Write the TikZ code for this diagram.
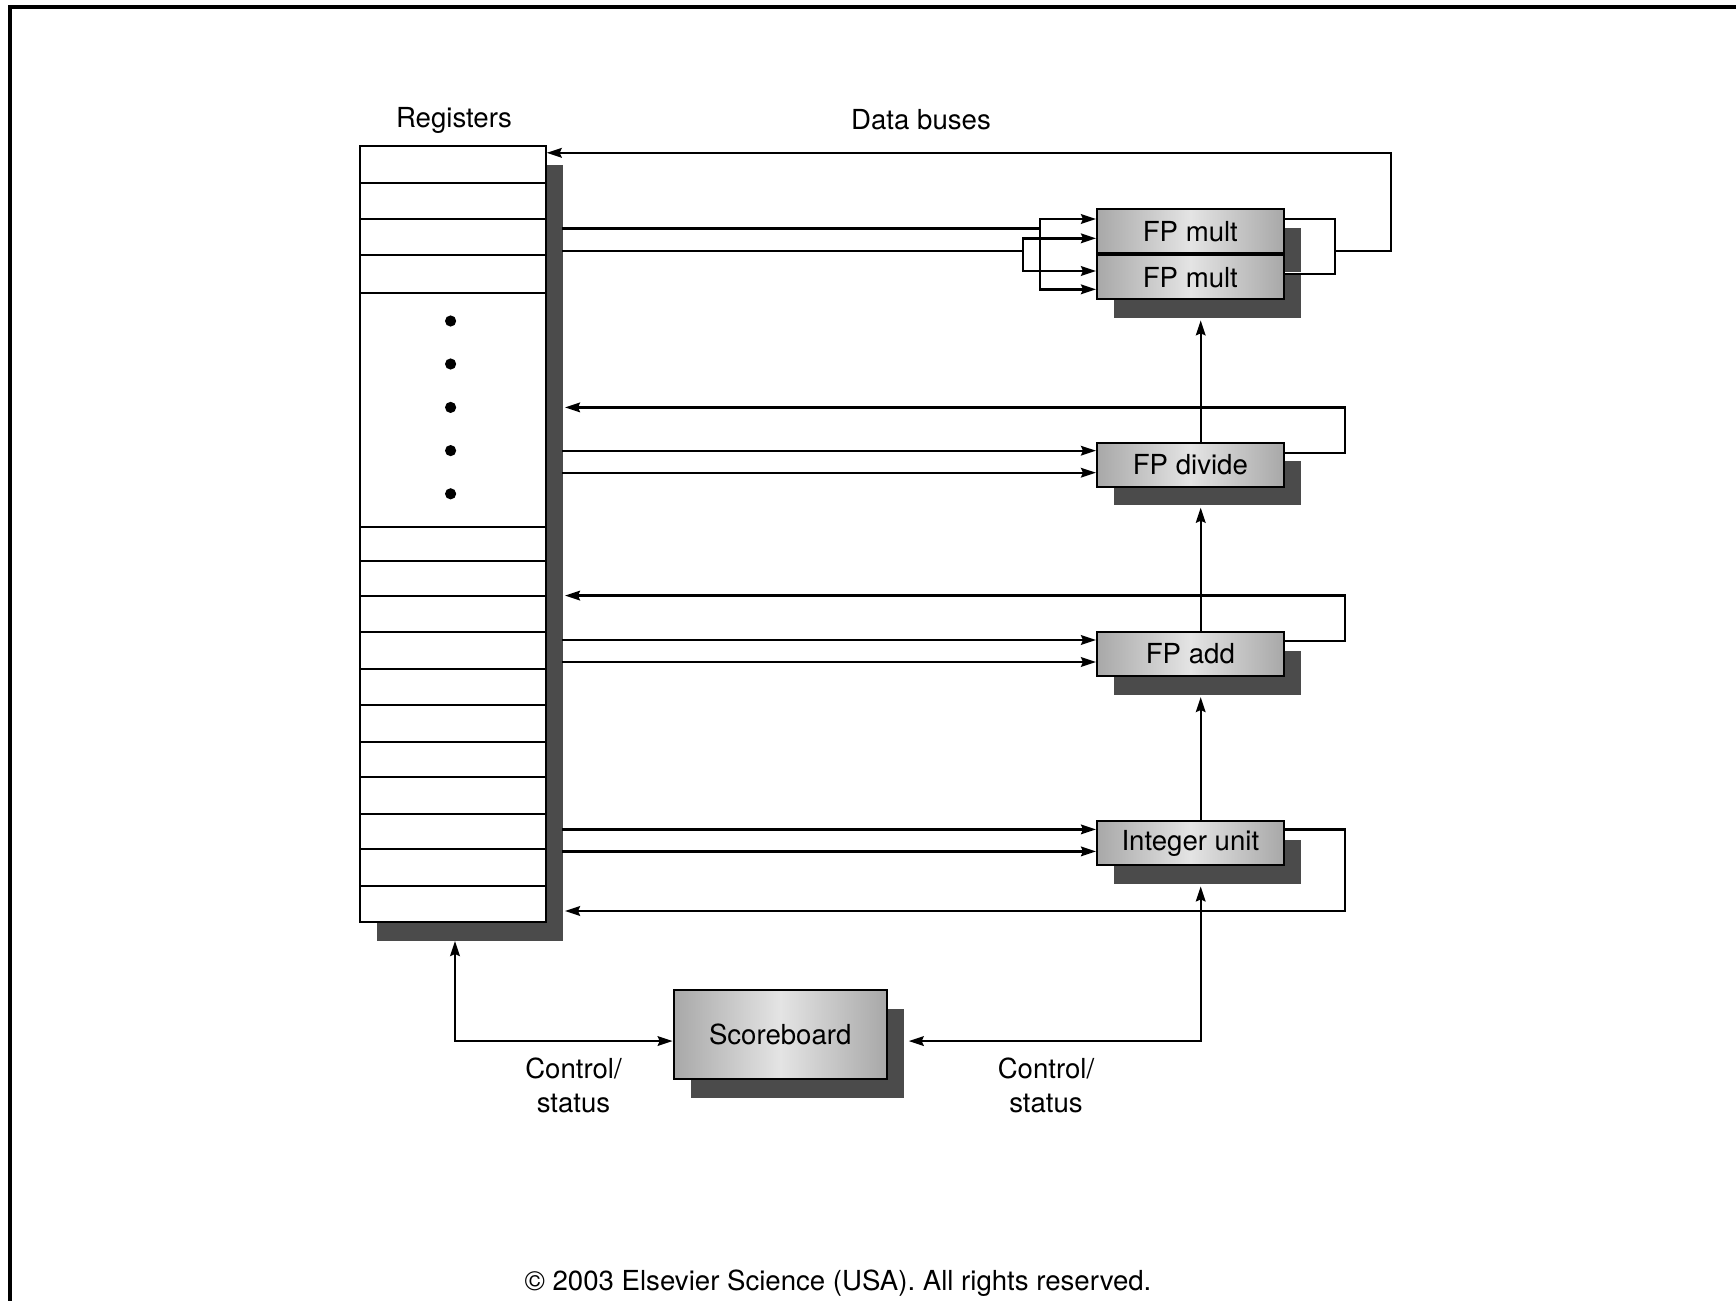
\documentclass[tikz,border=0pt]{standalone}
\usepackage{fontspec}
\setmainfont{TeX Gyre Heros}
\usepackage{tikz}
\usetikzlibrary{positioning,arrows.meta,calc,shadows}
\definecolor{colShadow}{HTML}{4B4B4B}
\definecolor{colBoxDark}{HTML}{A8A8A8}
\definecolor{colBoxLight}{HTML}{E4E4E4}

\begin{document}
\begin{tikzpicture}[x=0.5pt, y=-0.5pt, >={Stealth[length=7.5pt,width=4.8pt,inset=1pt]},
    font=\fontsize{13.8}{17.2}\selectfont,
    wire/.style={line width=1.2pt},
    unit/.style={draw, line width=1pt, minimum width=93.35pt, minimum height=22pt, inner sep=0pt,
      general shadow={fill=colShadow, shadow xshift=8.5pt, shadow yshift=-9.25pt},
      shade, shading=axis, left color=colBoxDark, right color=colBoxDark, middle color=colBoxLight},
    regbox/.style={draw, fill=white, line width=1pt, minimum width=92.85pt, minimum height=388pt, inner sep=0pt,
      general shadow={fill=colShadow, shadow xshift=8.5pt, shadow yshift=-9.5pt}}]
    \useasboundingbox (0,0) rectangle (1736,1301);

    % Marco
    \draw[line width=2pt] (10,1320) -- (10,7) -- (1750,7);

    % Registros
    \node[regbox, anchor=north west] (regs) at (359,145) {};
    \foreach \y in {182.7,219,255.3,292.7,527,561,595.6,632,668.7,705,741.8,777,813.7,849,885.7}
      \draw[line width=1pt] (regs.west |- 0,\y) -- (regs.east |- 0,\y);
    \foreach \y in {321,364,407.4,450.6,493.8}
      \fill (450.6,\y) circle (2.8pt);
    \node (lblRegs) at (454,120) {Registers};
    \node (lblBuses) at (921,120) {Data buses};

    % Unidades funcionales
    \node[unit, anchor=north west] (fpmultA) at (1096,208.3) {FP mult};
    \node[unit, below=0pt of fpmultA] (fpmultB) {FP mult};
    \node[unit, anchor=north west] (fpdiv) at (1096,441.7) {FP divide};
    \node[unit, anchor=north west] (fpadd) at (1096,631) {FP add};
    \node[unit, anchor=north west] (intunit) at (1096,820.4) {Integer unit};
    \node[unit, anchor=north west, minimum width=106.5pt, minimum height=44.65pt] (score) at (672.7,989) {Scoreboard};

    \coordinate (busx) at (562,0);
    \coordinate (retx) at (565,0);
    \coordinate (upx) at (1200.7,0);

    % Buses hacia FP mult
    \coordinate (forkA) at (1040,228.3);
    \coordinate (forkB) at (1022.7,251);
    \draw[wire] (busx |- forkA) -- (forkA);
    \draw[wire] (busx |- forkB) -- (forkB);
    \draw[wire,->] (forkA) |- ([yshift=-5.35pt]fpmultA.north west);
    \draw[wire,->] (forkA) |- ([yshift=-17.5pt]fpmultB.north west);
    \draw[wire,->] (forkB) |- ([yshift=-15pt]fpmultA.north west);
    \draw[wire,->] (forkB) |- ([yshift=-8.35pt]fpmultB.north west);

    % Buses hacia las otras unidades
    \foreach \u in {fpdiv,fpadd,intunit}{
      \coordinate (\u-a) at ($(\u.north west)+(0,9)$);
      \coordinate (\u-b) at ($(\u.north west)+(0,31)$);
      \draw[wire,->] (busx |- \u-a) -- (\u-a);
      \draw[wire,->] (busx |- \u-b) -- (\u-b);
    }

    % Resultados de vuelta
    \coordinate (multJ) at (1335,250.7);
    \coordinate (multR) at (1390.7,152.8);
    \draw[wire] ($(fpmultA.north east)+(0,10.7)$) -| (multJ) |- ($(fpmultB.north east)+(0,19.4)$);
    \draw[wire,->] (multJ) -| (multR) -- (regs.east |- multR);
    \coordinate (divR) at (1345,407.4);
    \draw[wire,->] ($(fpdiv.north east)+(0,11)$) -| (divR) -- (retx |- divR);
    \coordinate (addR) at (1345,595.6);
    \draw[wire,->] ($(fpadd.north east)+(0,10)$) -| (addR) -- (retx |- addR);
    \coordinate (intR) at (1345,911);
    \draw[wire,->] ($(intunit.north east)+(0,9)$) -| (intR) -- (retx |- intR);

    % Cadena vertical
    \draw[wire,->] (upx |- intunit.north) -- ($(upx |- fpadd.south)+(0,20)$);
    \draw[wire,->] (upx |- fpadd.north) -- ($(upx |- fpdiv.south)+(0,20)$);
    \draw[wire,->] (upx |- fpdiv.north) -- ($(upx |- fpmultB.south)+(0,20)$);

    % Control/estado
    \coordinate (scoreL) at ($(score.west)+(0,6.4)$);
    \coordinate (regsC) at (455,941);
    \draw[wire,<->] (regsC) |- (scoreL);
    \draw[wire,<->] ($(score.east |- scoreL)+(21,0)$) -| ($(upx |- intunit.south)+(0,20)$);
    \node[align=center] (ctlLeft) at (573.5,1085.5) {Control/\\status};
    \node[align=center] (ctlRight) at (1046,1085.5) {Control/\\status};

    \node (copyr) at (838,1283) {© 2003 Elsevier Science (USA). All rights reserved.};
\end{tikzpicture}
\end{document}
